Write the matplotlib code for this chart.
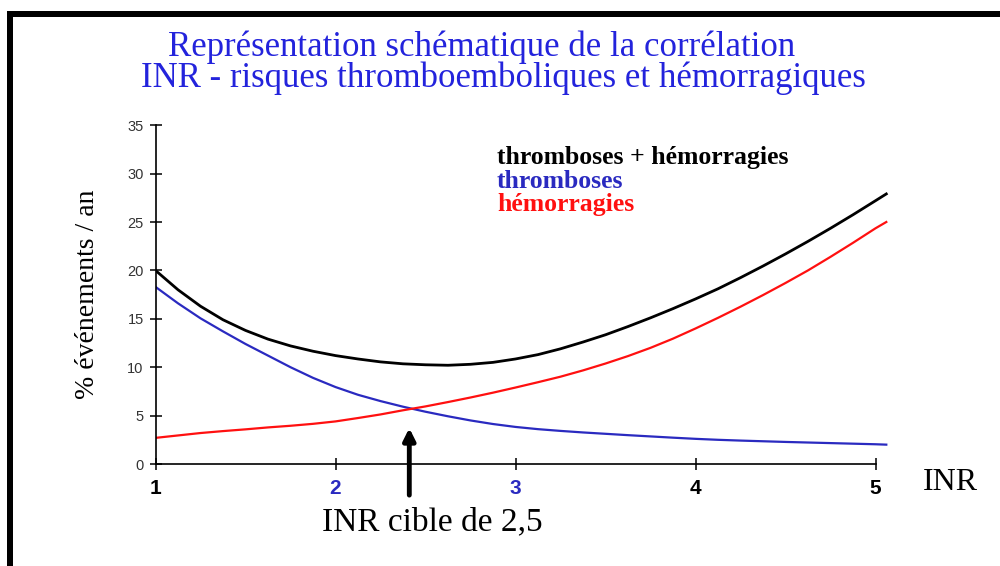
import matplotlib
matplotlib.use("Agg")
import matplotlib.pyplot as plt
from matplotlib.patches import Rectangle

# ---- data ----
inr = [1.0, 1.125, 1.25, 1.375, 1.5, 1.625, 1.75, 1.875, 2.0, 2.125, 2.25, 2.375, 2.5, 2.625,
       2.75, 2.875, 3.0, 3.125, 3.25, 3.375, 3.5, 3.625, 3.75, 3.875, 4.0, 4.125, 4.25, 4.375,
       4.5, 4.625, 4.75, 4.875, 5.0, 5.06]
total = [20.0, 18.0, 16.3, 14.9, 13.8, 12.9, 12.2, 11.65, 11.2, 10.85, 10.55, 10.35, 10.25, 10.2,
         10.3, 10.5, 10.85, 11.3, 11.9, 12.6, 13.35, 14.2, 15.1, 16.05, 17.05, 18.1, 19.25, 20.45,
         21.7, 23.0, 24.35, 25.75, 27.2, 27.9]
thromb = [18.3, 16.6, 15.05, 13.7, 12.4, 11.2, 10.0, 8.9, 7.95, 7.15, 6.5, 5.92, 5.4, 4.93,
          4.5, 4.13, 3.83, 3.6, 3.42, 3.26, 3.12, 2.98, 2.85, 2.72, 2.6, 2.5, 2.42, 2.35,
          2.28, 2.22, 2.16, 2.1, 2.04, 2.0]
hemor = [2.7, 2.95, 3.2, 3.4, 3.58, 3.78, 3.95, 4.15, 4.4, 4.75, 5.12, 5.55, 5.95, 6.4,
         6.87, 7.37, 7.9, 8.45, 9.02, 9.67, 10.38, 11.15, 12.0, 12.95, 14.0, 15.1, 16.25, 17.45,
         18.7, 20.0, 21.4, 22.85, 24.35, 25.0]
xticks = [1, 2, 3, 4, 5]
xtick_labels = ["1", "2", "3", "4", "5"]
yticks = [0, 5, 10, 15, 20, 25, 30, 35]
target_inr = 2.41

title_lines = ["Représentation schématique de la corrélation",
               "INR - risques thromboemboliques et hémorragiques"]
legend_labels = ["thromboses + hémorragies", "thromboses", "hémorragies"]

BLUE_T = "#2323dc"
BLUE = "#2a2ac0"
RED = "#ff1010"

fig = plt.figure(figsize=(10, 5.66), dpi=100)
fig.patch.set_facecolor("white")

# L-shaped frame
fig.patches.append(Rectangle((0.007, 1 - 17 / 566), 0.993, 6 / 566, transform=fig.transFigure,
                             facecolor="black", edgecolor="none"))
fig.patches.append(Rectangle((0.007, 0), 0.006, 1 - 11 / 566, transform=fig.transFigure,
                             facecolor="black", edgecolor="none"))

ax = fig.add_axes([0.1555, 0.1802, 0.738, 0.5986])
ax.plot(inr, total, color="black", lw=2.0)
ax.plot(inr, thromb, color=BLUE, lw=1.6)
ax.plot(inr, hemor, color=RED, lw=1.6)

ax.set_xlim(1, 5.1)
ax.set_ylim(0, 35)
for s in ["top", "right"]:
    ax.spines[s].set_visible(False)
ax.spines["bottom"].set_bounds(1, 5)
for s in ["left", "bottom"]:
    ax.spines[s].set_linewidth(1.2)

ax.set_yticks(yticks)
ax.set_yticklabels([str(v) for v in yticks], fontfamily="Liberation Sans", fontsize=10.5, color="#333333")
ax.tick_params(axis="y", direction="inout", length=9, width=1.1, pad=4)
ax.set_xticks(xticks)
ax.set_xticklabels(xtick_labels, fontfamily="Liberation Sans", fontsize=15, fontweight="bold")
ax.tick_params(axis="x", direction="inout", length=9, width=1.1, pad=6)
tl = ax.get_xticklabels()
for i, c in enumerate(["black", BLUE, BLUE, "black", "black"]):
    tl[i].set_color(c)

ax.set_ylabel("% événements / an", fontfamily="Liberation Serif", fontsize=20, labelpad=20)

# legend texts
lx = (497 - 155.5) / 738
ax.text(lx, (464 - 157) / 339, legend_labels[0], transform=ax.transAxes, fontfamily="Liberation Serif",
        fontsize=18.5, fontweight="bold", color="black", va="center")
ax.text(lx, (464 - 181) / 339, legend_labels[1], transform=ax.transAxes, fontfamily="Liberation Serif",
        fontsize=18.5, fontweight="bold", color=BLUE, va="center")
ax.text(lx, (464 - 204) / 339, legend_labels[2], transform=ax.transAxes, fontfamily="Liberation Serif",
        fontsize=18.5, fontweight="bold", color=RED, va="center")

# target arrow
ax.annotate("", xy=(target_inr, 4.0), xytext=(target_inr, -3.5),
            arrowprops=dict(arrowstyle="-|>,head_width=0.35,head_length=0.7", color="black", lw=3.5),
            annotation_clip=False)

# title
fig.text(0.482, 1 - 47 / 566, title_lines[0], ha="center", va="center",
         fontfamily="Liberation Serif", fontsize=25, color=BLUE_T)
fig.text(0.503, 1 - 78 / 566, title_lines[1], ha="center", va="center",
         fontfamily="Liberation Serif", fontsize=25, color=BLUE_T)

fig.text(0.950, 1 - 482 / 566, "INR", ha="center", va="center",
         fontfamily="Liberation Serif", fontsize=23, color="black")
fig.text(0.432, 1 - 522 / 566, "INR cible de 2,5", ha="center", va="center",
         fontfamily="Liberation Serif", fontsize=24, color="black")

fig.savefig("out.png", dpi=100, facecolor="white")
